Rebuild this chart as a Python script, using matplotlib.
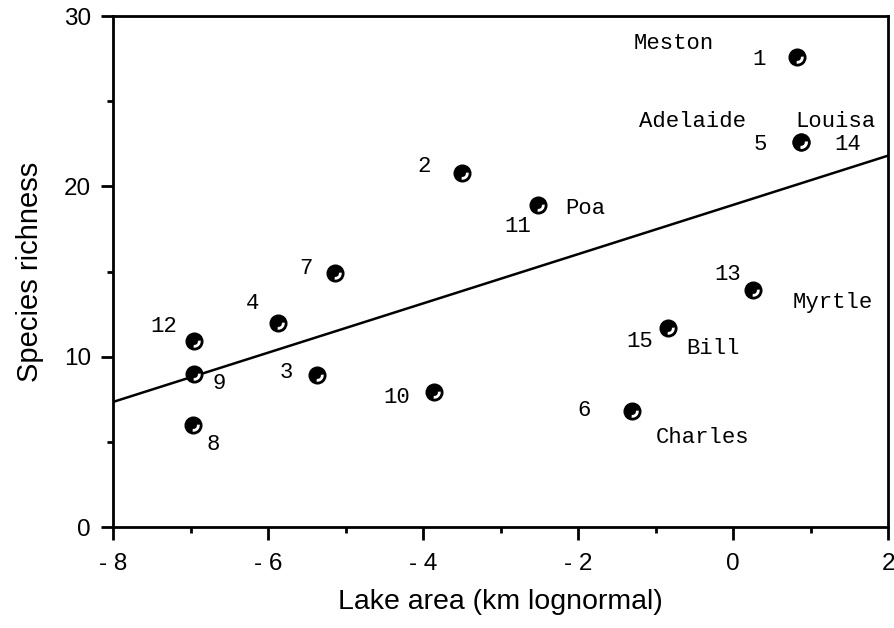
import numpy as np
import matplotlib.pyplot as plt
from matplotlib.path import Path

# dados
lagos = ['1', '2', '3', '4', '5', '6', '7', '8', '9', '10', '11', '12', '13', '14', '15']
area = [0.82, -3.5, -5.37, -5.87, 0.88, -1.3, -5.13, -6.97, -6.96, -3.86, -2.52, -6.96, 0.26, 0.88, -0.84]
riqueza = [27.6, 20.8, 8.9, 12.0, 22.6, 6.8, 14.9, 6.0, 9.0, 7.9, 18.9, 10.9, 13.9, 22.6, 11.7]
nomes = {'1': 'Meston', '5': 'Adelaide', '14': 'Louisa', '11': 'Poa',
         '13': 'Myrtle', '15': 'Bill', '6': 'Charles'}

# reta de regressao
incl = 1.446
intercepto = 18.91

# deslocamentos dos rotulos (pixels)
off_num = {'1': (-37, -3), '2': (-38, 6), '3': (-31, 3), '4': (-26, 19), '5': (-41, -2),
           '6': (-48, 1), '7': (-29, 5), '8': (20, -20), '9': (26, -10), '10': (-37, -5),
           '11': (-20, -21), '12': (-30, 15), '13': (-25, 16), '14': (47, -2), '15': (-28, -14)}
off_nome = {'1': (-123, 13), '5': (-109, 21), '14': (34, 21), '11': (48, -3),
            '13': (80, -12), '15': (45, -21), '6': (70, -26)}

fig = plt.figure(figsize=(8.94, 6.28), dpi=100)
ax = fig.add_axes([0.1264, 0.1608, 0.8669, 0.8137])

xl = np.array([-8, 2])
ax.plot(xl, incl * xl + intercepto, c='black', lw=1.8, zorder=1)

ax.plot(area, riqueza, 'o', ms=12, mfc='black', mec='black', zorder=3)
brilho = Path.arc(-100, 10)
ax.plot(area, riqueza, ls='none', marker=brilho, ms=7, mfc='none', mec='white', mew=2, zorder=4)

for i, lab in enumerate(lagos):
    ax.annotate(lab, (area[i], riqueza[i]), xytext=off_num[lab], textcoords='offset pixels',
                ha='center', va='center', fontsize=16, family='Liberation Mono')
    if lab in nomes:
        ax.annotate(nomes[lab], (area[i], riqueza[i]), xytext=off_nome[lab], textcoords='offset pixels',
                    ha='center', va='center', fontsize=16, family='Liberation Mono')

ax.set_xlim(-8, 2)
ax.set_ylim(0, 30)
ax.set_xticks([-8, -6, -4, -2, 0, 2])
ax.set_xticklabels(['- 8', '- 6', '- 4', '- 2', '0', '2'], fontsize=17.5, family='Liberation Sans')
ax.set_xticks([-7, -5, -3, -1, 1], minor=True)
ax.set_yticks([0, 10, 20, 30])
ax.set_yticklabels(['0', '10', '20', '30'], fontsize=17.5, family='Liberation Sans')
ax.set_yticks([5, 15, 25], minor=True)
ax.tick_params(which='major', direction='out', length=9, width=2)
ax.tick_params(which='minor', direction='out', length=4, width=2)
ax.tick_params(axis='x', which='major', pad=10)
ax.tick_params(axis='y', which='major', pad=7)
for s in ax.spines.values():
    s.set_linewidth(2)

ax.set_xlabel('Lake area (km lognormal)', fontsize=20.5, family='Liberation Sans', labelpad=10)
ax.set_ylabel('Species richness', fontsize=21, family='Liberation Sans', labelpad=14)

plt.savefig('out.png', dpi=100)
